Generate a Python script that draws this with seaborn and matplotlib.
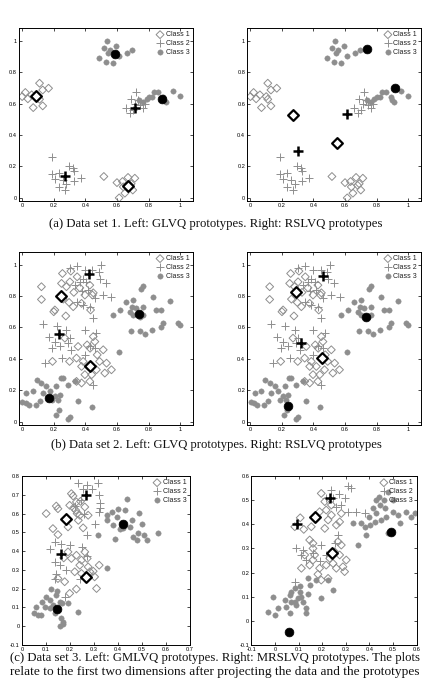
import numpy as np
import pandas as pd
import matplotlib
matplotlib.use("Agg")
import matplotlib.pyplot as plt
import seaborn as sns

# ---- data set 1 (same points in both top panels) ----
d1_c1_x = [0.0, 0.02, 0.036, 0.07, 0.11, 0.13, 0.13, 0.167, 0.10, 0.06, 0.11,
           0.517, 0.60, 0.614, 0.635, 0.67, 0.713, 0.70, 0.65, 0.68, 0.64, 0.69]
d1_c1_y = [0.644, 0.67, 0.63, 0.574, 0.729, 0.686, 0.585, 0.697, 0.644, 0.655, 0.627,
           0.136, 0.097, 0.0, 0.104, 0.13, 0.125, 0.05, 0.03, 0.08, 0.07, 0.09]
d1_c2_x = [0.186, 0.186, 0.207, 0.234, 0.23, 0.27, 0.297, 0.323, 0.327, 0.37, 0.26, 0.28, 0.33,
           0.72, 0.69, 0.656, 0.68, 0.713, 0.734, 0.766, 0.745, 0.78, 0.70]
d1_c2_y = [0.263, 0.153, 0.12, 0.157, 0.068, 0.047, 0.205, 0.189, 0.108, 0.125, 0.114, 0.09, 0.174,
           0.67, 0.627, 0.574, 0.54, 0.60, 0.623, 0.57, 0.59, 0.60, 0.56]
d1_c3_x = [0.534, 0.487, 0.517, 0.53, 0.555, 0.576, 0.593, 0.614, 0.665, 0.692, 0.544,
           0.804, 0.833, 0.86, 0.89, 0.913, 0.956, 0.998, 0.766, 0.787, 0.82, 0.74, 0.90]
d1_c3_y = [1.0, 0.888, 0.951, 0.864, 0.94, 0.86, 0.966, 0.903, 0.92, 0.94, 0.924,
           0.644, 0.676, 0.67, 0.64, 0.612, 0.68, 0.648, 0.612, 0.627, 0.64, 0.623, 0.623]

# prototypes (class 1, 2, 3 -> two each)
glvq1_c1 = ([0.09, 0.67], [0.645, 0.076])
glvq1_c2 = ([0.27, 0.713], [0.142, 0.57])
glvq1_c3 = ([0.586, 0.886], [0.913, 0.631])
rslvq1_c1 = ([0.27, 0.55], [0.528, 0.352])
rslvq1_c2 = ([0.30, 0.615], [0.30, 0.534])
rslvq1_c3 = ([0.742, 0.918], [0.949, 0.697])

# ---- data set 2 ----
d2_c1_x = [0.122, 0.122, 0.255, 0.249, 0.308, 0.348, 0.302, 0.28, 0.207, 0.276, 0.297, 0.327,
           0.365, 0.397, 0.428, 0.433, 0.445, 0.323, 0.376, 0.27, 0.192, 0.30, 0.344, 0.376,
           0.397, 0.376, 0.411, 0.43, 0.45, 0.46, 0.475, 0.49, 0.513, 0.534, 0.565, 0.523,
           0.47, 0.44, 0.418, 0.344, 0.428, 0.386, 0.354, 0.20, 0.45, 0.26]
d2_c1_y = [0.859, 0.778, 0.943, 0.88, 0.958, 0.922, 0.89, 0.859, 0.711, 0.673, 0.759, 0.823,
           0.852, 0.806, 0.869, 0.711, 0.806, 0.732, 0.753, 0.532, 0.384, 0.384, 0.405, 0.352,
           0.30, 0.247, 0.489, 0.468, 0.542, 0.51, 0.426, 0.384, 0.458, 0.373, 0.331, 0.31,
           0.331, 0.30, 0.352, 0.257, 0.257, 0.384, 0.479, 0.70, 0.82, 0.78]
d2_c2_x = [0.344, 0.302, 0.397, 0.445, 0.502, 0.487, 0.53, 0.513, 0.565, 0.45, 0.47, 0.46,
           0.133, 0.222, 0.171, 0.207, 0.192, 0.238, 0.28, 0.29, 0.312, 0.249, 0.143, 0.364,
           0.386, 0.407, 0.376, 0.418, 0.333, 0.344, 0.386, 0.428, 0.46, 0.49, 0.397, 0.428,
           0.397, 0.45, 0.30]
d2_c2_y = [0.992, 0.979, 0.964, 0.964, 1.0, 0.954, 0.88, 0.806, 0.795, 0.658, 0.563, 0.468,
           0.62, 0.61, 0.542, 0.506, 0.468, 0.479, 0.584, 0.5, 0.458, 0.405, 0.373, 0.89,
           0.91, 0.89, 0.83, 0.84, 0.87, 0.764, 0.743, 0.732, 0.785, 0.911, 0.584, 0.479,
           0.426, 0.236, 0.532]
d2_c3_x = [0.766, 0.751, 0.70, 0.656, 0.692, 0.72, 0.766, 0.829, 0.85, 0.876, 0.935, 0.892,
           0.88, 0.82, 0.776, 0.745, 0.686, 0.576, 0.68, 0.745, 0.70, 0.998, 0.987, 0.612,
           0.766, 0.618,
           0.002, 0.023, 0.044, 0.086, 0.027, 0.095, 0.122, 0.133, 0.154, 0.186, 0.207, 0.217,
           0.245, 0.26, 0.238, 0.228, 0.213, 0.234, 0.29, 0.30, 0.354, 0.44, 0.29, 0.333,
           0.175, 0.07, 0.11]
d2_c3_y = [0.863, 0.844, 0.774, 0.76, 0.732, 0.726, 0.732, 0.795, 0.711, 0.711, 0.768, 0.627,
           0.605, 0.584, 0.557, 0.578, 0.578, 0.68, 0.70, 0.669, 0.68, 0.616, 0.627, 0.447,
           0.68, 0.711,
           0.124, 0.12, 0.11, 0.11, 0.184, 0.268, 0.247, 0.184, 0.226, 0.141, 0.162, 0.226,
           0.278, 0.278, 0.173, 0.141, 0.046, 0.078, 0.015, 0.03, 0.131, 0.093, 0.236, 0.257,
           0.194, 0.194, 0.13]

glvq2_c1 = ([0.247, 0.432], [0.80, 0.357])
glvq2_c2 = ([0.424, 0.234], [0.939, 0.557])
glvq2_c3 = ([0.74, 0.171], [0.684, 0.152])
rslvq2_c1 = ([0.288, 0.457], [0.827, 0.405])
rslvq2_c2 = ([0.461, 0.323], [0.926, 0.504])
rslvq2_c3 = ([0.736, 0.239], [0.665, 0.103])

# ---- data set 3, GMLVQ projection ----
gm_c1_x = [0.101, 0.143, 0.15, 0.129, 0.15, 0.206, 0.213, 0.199, 0.224, 0.241, 0.235, 0.255,
           0.192, 0.276, 0.262, 0.244, 0.227, 0.174, 0.192, 0.206, 0.227, 0.248, 0.262, 0.272,
           0.241, 0.22, 0.248, 0.276, 0.283, 0.297, 0.322, 0.303, 0.311, 0.227, 0.178, 0.15,
           0.199, 0.23, 0.215]
gm_c1_y = [0.60, 0.64, 0.626, 0.52, 0.488, 0.706, 0.694, 0.644, 0.618, 0.591, 0.564, 0.524,
           0.529, 0.591, 0.635, 0.665, 0.662, 0.364, 0.396, 0.361, 0.378, 0.352, 0.396, 0.361,
           0.325, 0.29, 0.281, 0.316, 0.29, 0.293, 0.325, 0.263, 0.201, 0.198, 0.237, 0.254,
           0.175, 0.60, 0.63]
gm_c2_x = [0.234, 0.272, 0.318, 0.255, 0.294, 0.322, 0.325, 0.325, 0.322, 0.304, 0.272, 0.248,
           0.136, 0.164, 0.199, 0.115, 0.136, 0.157, 0.143, 0.185, 0.136, 0.252, 0.27, 0.241,
           0.178, 0.22, 0.26]
gm_c2_y = [0.765, 0.754, 0.763, 0.733, 0.729, 0.70, 0.658, 0.63, 0.609, 0.547, 0.485, 0.67,
           0.446, 0.44, 0.435, 0.41, 0.343, 0.325, 0.28, 0.30, 0.254, 0.423, 0.375, 0.254,
           0.157, 0.64, 0.60]
gm_c3_x = [0.437, 0.402, 0.43, 0.374, 0.353, 0.395, 0.356, 0.381, 0.409, 0.458, 0.451, 0.49,
           0.50, 0.482, 0.465, 0.479, 0.521, 0.567, 0.507, 0.388, 0.318, 0.353, 0.423,
           0.059, 0.101, 0.115, 0.143, 0.157, 0.168, 0.115, 0.136, 0.164, 0.171, 0.192, 0.234,
           0.052, 0.066, 0.08, 0.094, 0.129, 0.16, 0.17, 0.085, 0.12, 0.145]
gm_c3_y = [0.68, 0.626, 0.617, 0.609, 0.591, 0.582, 0.564, 0.541, 0.517, 0.564, 0.529, 0.605,
           0.547, 0.499, 0.476, 0.458, 0.458, 0.494, 0.485, 0.467, 0.488, 0.311, 0.523,
           0.104, 0.157, 0.14, 0.166, 0.13, 0.126, 0.095, 0.068, 0.045, 0.024, 0.122, 0.077,
           0.068, 0.06, 0.06, 0.104, 0.113, 0.0, 0.01, 0.13, 0.2, 0.19]

gmlvq_c1 = ([0.185, 0.265], [0.57, 0.26])
gmlvq_c2 = ([0.269, 0.164], [0.697, 0.387])
gmlvq_c3 = ([0.42, 0.146], [0.547, 0.09])

# ---- data set 3, MRSLVQ projection ----
mr_c1_x = [0.084, 0.107, 0.122, 0.154, 0.173, 0.196, 0.211, 0.189, 0.217, 0.239, 0.211, 0.225,
           0.239, 0.26, 0.281, 0.274, 0.147, 0.161, 0.161, 0.168, 0.126, 0.112, 0.147, 0.161,
           0.189, 0.182, 0.196, 0.225, 0.217, 0.232, 0.246, 0.26, 0.274, 0.281, 0.302, 0.295,
           0.253, 0.288, 0.267]
mr_c1_y = [0.39, 0.427, 0.379, 0.39, 0.425, 0.528, 0.494, 0.452, 0.459, 0.48, 0.383, 0.418,
           0.438, 0.397, 0.445, 0.41, 0.335, 0.321, 0.30, 0.273, 0.273, 0.218, 0.231, 0.252,
           0.218, 0.193, 0.169, 0.176, 0.231, 0.259, 0.238, 0.218, 0.273, 0.314, 0.252, 0.204,
           0.286, 0.224, 0.328]
mr_c2_x = [0.239, 0.271, 0.309, 0.323, 0.295, 0.309, 0.281, 0.257, 0.246, 0.217, 0.344, 0.38,
           0.267, 0.253, 0.196, 0.09, 0.119, 0.112, 0.133, 0.161, 0.217, 0.189, 0.084]
mr_c2_y = [0.542, 0.524, 0.56, 0.552, 0.51, 0.452, 0.48, 0.473, 0.507, 0.507, 0.452, 0.445,
           0.356, 0.321, 0.314, 0.30, 0.293, 0.273, 0.252, 0.28, 0.273, 0.248, 0.162]
mr_c3_x = [0.33, 0.352, 0.38, 0.387, 0.398, 0.415, 0.429, 0.422, 0.45, 0.471, 0.443, 0.465,
           0.44, 0.479, 0.521, 0.528, 0.553, 0.577, 0.591, 0.50, 0.401, 0.426, 0.479, 0.366, 0.50,
           -0.029, -0.001, -0.008, 0.013, 0.041, 0.048, 0.062, 0.069, 0.084, 0.098, 0.09, 0.112,
           0.119, 0.105, 0.084, 0.069, 0.133, 0.133, 0.14, 0.147, 0.196, 0.246, 0.225, 0.175,
           0.062, 0.107, 0.139]
mr_c3_y = [0.404, 0.314, 0.39, 0.356, 0.431, 0.466, 0.445, 0.41, 0.418, 0.431, 0.48, 0.466,
           0.514, 0.535, 0.438, 0.404, 0.452, 0.431, 0.445, 0.452, 0.397, 0.50, 0.363, 0.404, 0.50,
           0.038, 0.024, 0.10, 0.052, 0.086, 0.059, 0.107, 0.079, 0.079, 0.093, 0.066, 0.10,
           0.079, 0.12, 0.135, 0.12, 0.031, 0.052, 0.176, 0.148, 0.093, 0.128, 0.169, 0.169,
           0.031, 0.144, 0.11]

mrslvq_c1 = ([0.171, 0.242], [0.43, 0.282])
mrslvq_c2 = ([0.234, 0.095], [0.51, 0.40])
mrslvq_c3 = ([0.493, 0.061], [0.367, -0.045])

class_names = ["Class 1", "Class 2", "Class 3"]

captions = [
    "(a) Data set 1. Left: GLVQ prototypes. Right: RSLVQ prototypes",
    "(b) Data set 2. Left: GLVQ prototypes. Right: RSLVQ prototypes",
    "(c) Data set 3. Left: GMLVQ prototypes. Right: MRSLVQ prototypes. The plots",
    "relate to the first two dimensions after projecting the data and the prototypes",
]

GRAY = "#8e8e8e"
W_PX, H_PX = 426, 688

sns.set_theme(style="white")
plt.rcParams["font.family"] = ["Liberation Sans", "DejaVu Sans"]


def draw_panel(ax, c1, c2, c3, p1, p2, p3, xlim, ylim, xticks, yticks):
    sns.scatterplot(x=c1[0], y=c1[1], ax=ax, marker="D", s=16, facecolors="none",
                    edgecolors=GRAY, linewidth=0.7, label=class_names[0])
    sns.scatterplot(x=c2[0], y=c2[1], ax=ax, marker="+", s=26, color=GRAY,
                    linewidth=0.7, label=class_names[1])
    sns.scatterplot(x=c3[0], y=c3[1], ax=ax, marker="o", s=15, color=GRAY,
                    edgecolor=GRAY, linewidth=0.3, label=class_names[2])
    # prototypes
    sns.scatterplot(x=p1[0], y=p1[1], ax=ax, marker="D", s=30, facecolor="white",
                    edgecolor="black", linewidth=1.6, zorder=5)
    sns.scatterplot(x=p2[0], y=p2[1], ax=ax, marker="+", s=55, color="black",
                    linewidth=1.8, zorder=5)
    sns.scatterplot(x=p3[0], y=p3[1], ax=ax, marker="o", s=40, color="black",
                    edgecolor="black", linewidth=0.5, zorder=5)

    ax.set_xlim(*xlim)
    ax.set_ylim(*ylim)
    ax.set_xticks(xticks)
    ax.set_yticks(yticks)
    ax.set_xticklabels([f"{t:g}" for t in xticks])
    ax.set_yticklabels([f"{t:g}" for t in yticks])
    ax.tick_params(direction="in", length=2.5, width=0.5, labelsize=4.1, pad=1.5,
                   top=True, right=True, bottom=True, left=True, colors="black")
    for sp in ax.spines.values():
        sp.set_color("black")
        sp.set_linewidth(0.7)
    ax.set_xlabel("")
    ax.set_ylabel("")
    leg = ax.legend(loc="upper right", frameon=False, fontsize=5, handletextpad=0.2,
                    labelspacing=0.25, borderaxespad=0.3, handlelength=1.2,
                    borderpad=0.2)
    for t in leg.get_texts():
        t.set_color("#222222")


def caption_line(fig, text, x0, x1, y, ha, size=9.0):
    # one line of caption text, font size tuned so it spans x0..x1 (pixels)
    renderer = fig.canvas.get_renderer()
    xpos = x0 if ha == "left" else (x0 + x1) / 2
    t = fig.text(xpos / W_PX, 1 - y / H_PX, text, ha=ha, va="center",
                 family=["Liberation Serif", "DejaVu Serif"], fontsize=size, color="#111111")
    w = t.get_window_extent(renderer).width
    t.set_fontsize(size * (x1 - x0) / w)
    return t


fig = plt.figure(figsize=(4.26, 6.88), dpi=100)

lim12 = (-0.02, 1.08)
t12 = [0, 0.2, 0.4, 0.6, 0.8, 1]

ax1 = fig.add_axes([0.0446, 0.7078, 0.408, 0.2515])
draw_panel(ax1, (d1_c1_x, d1_c1_y), (d1_c2_x, d1_c2_y), (d1_c3_x, d1_c3_y),
           glvq1_c1, glvq1_c2, glvq1_c3, lim12, lim12, t12, t12)
ax2 = fig.add_axes([0.5805, 0.7078, 0.407, 0.2515])
draw_panel(ax2, (d1_c1_x, d1_c1_y), (d1_c2_x, d1_c2_y), (d1_c3_x, d1_c3_y),
           rslvq1_c1, rslvq1_c2, rslvq1_c3, lim12, lim12, t12, t12)

ax3 = fig.add_axes([0.0446, 0.3823, 0.408, 0.2515])
draw_panel(ax3, (d2_c1_x, d2_c1_y), (d2_c2_x, d2_c2_y), (d2_c3_x, d2_c3_y),
           glvq2_c1, glvq2_c2, glvq2_c3, lim12, lim12, t12, t12)
ax4 = fig.add_axes([0.5805, 0.3823, 0.407, 0.2515])
draw_panel(ax4, (d2_c1_x, d2_c1_y), (d2_c2_x, d2_c2_y), (d2_c3_x, d2_c3_y),
           rslvq2_c1, rslvq2_c2, rslvq2_c3, lim12, lim12, t12, t12)

ax5 = fig.add_axes([0.0516, 0.0625, 0.394, 0.2456])
draw_panel(ax5, (gm_c1_x, gm_c1_y), (gm_c2_x, gm_c2_y), (gm_c3_x, gm_c3_y),
           gmlvq_c1, gmlvq_c2, gmlvq_c3, (0, 0.7), (-0.1, 0.8),
           np.round(np.arange(0, 0.71, 0.1), 1), np.round(np.arange(-0.1, 0.81, 0.1), 1))
ax6 = fig.add_axes([0.59, 0.0625, 0.388, 0.2456])
draw_panel(ax6, (mr_c1_x, mr_c1_y), (mr_c2_x, mr_c2_y), (mr_c3_x, mr_c3_y),
           mrslvq_c1, mrslvq_c2, mrslvq_c3, (-0.1, 0.6), (-0.1, 0.6),
           np.round(np.arange(-0.1, 0.61, 0.1), 1), np.round(np.arange(-0.1, 0.61, 0.1), 1))

caption_line(fig, captions[0], 50, 382, 224, "center")
caption_line(fig, captions[1], 50, 382, 445, "center")
caption_line(fig, captions[2], 10, 418, 658, "left")
caption_line(fig, captions[3], 10, 418, 672, "left")

fig.savefig("out.png", dpi=100)
